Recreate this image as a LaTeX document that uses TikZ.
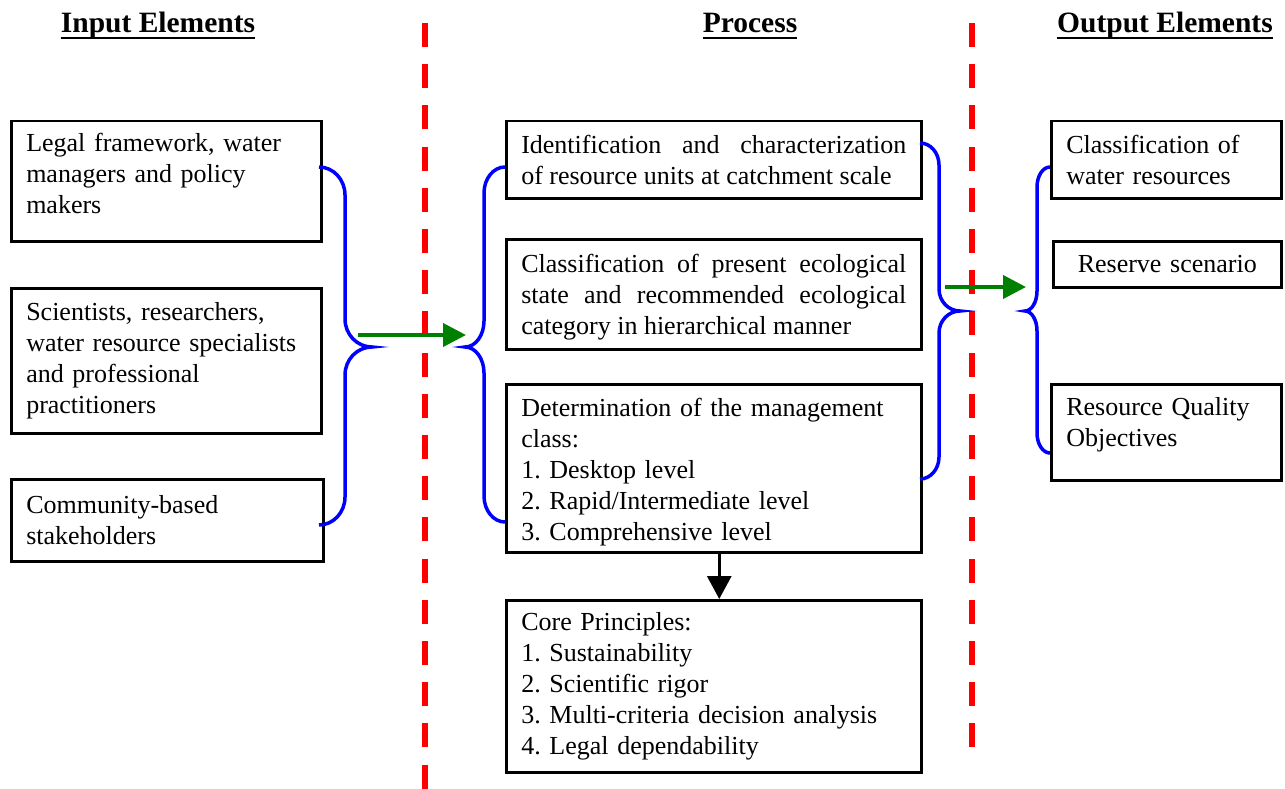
\documentclass[tikz,border=0pt]{standalone}
\usepackage{fontspec}
\setmainfont{Liberation Serif}
\usetikzlibrary{arrows.meta}
\frenchspacing

% x0 y0 y1 xv xt yt r
\newcommand{\curly}[7]{%
    \draw[brace] (#1,#2) .. controls (#1+0.552*#4-0.552*#1,#2) and (#4,#2+0.448*#7) .. (#4,#2+#7)
        -- (#4,#6-#7)
        .. controls (#4,#6-0.448*#7) and (#5-0.552*#5+0.552*#4,#6) .. (#5,#6)
        .. controls (#5-0.552*#5+0.552*#4,#6) and (#4,#6+0.448*#7) .. (#4,#6+#7)
        -- (#4,#3-#7)
        .. controls (#4,#3-0.448*#7) and (#1+0.552*#4-0.552*#1,#3) .. (#1,#3);}

\begin{document}
\begin{tikzpicture}[x=1pt,y=-1pt,
            font=\fontsize{26}{31}\selectfont,
            box/.style={draw, line width=2.5pt, anchor=north west,
                inner xsep=15pt, inner ysep=4pt, align=left},
            title/.style={font=\fontsize{29.5}{34}\selectfont\bfseries,
                anchor=base, inner sep=0pt},
            brace/.style={blue, line width=3.5pt},
            divider/.style={red, line width=6pt, dash pattern=on 24pt off 17.2pt},
            flow/.style={-{Triangle[length=23pt,width=23pt]}, green!50!black, line width=4pt},
            down/.style={-{Triangle[length=23pt,width=24pt]}, black, line width=3pt}]
    \useasboundingbox (0,0) rectangle (1285,789);

    % headings
    \node[title] (intitle) at (158,33) {Input Elements};
    \node[title] (proctitle) at (750,33) {Process};
    \node[title] (outtitle) at (1165,33) {Output Elements};
    \foreach \t in {intitle,proctitle,outtitle}
        \draw[line width=2.7pt] ([yshift=-5pt]\t.base west) -- ([yshift=-5pt]\t.base east);

    % dividers
    \coordinate (d1top) at (425,23);
    \coordinate (d1bot) at (425,789);
    \coordinate (d2top) at (972,23);
    \coordinate (d2bot) at (972,752);
    \draw[divider] (d1top) -- (d1bot);
    \draw[divider] (d2top) -- (d2bot);

    % input elements
    \node[box, text width=280pt, minimum height=120pt, text depth=78pt] (legal) at (10,120)
        {Legal framework, water\\managers and policy\\makers};
    \node[box, text width=280pt, minimum height=145pt] (science) at (10,287)
        {Scientists, researchers,\\water resource specialists\\and professional\\practitioners};
    \node[box, text width=282pt, minimum height=82pt] (community) at (10,478)
        {Community-based\\stakeholders};

    % process
    \node[box, text width=385pt, minimum height=77pt, align=justify] (identify) at (505,120)
        {Identification and characterization\linebreak of resource units at catchment scale};
    \node[box, text width=385pt, minimum height=110pt, align=justify, text height=24pt] (present) at (505,238)
        {Classification of present ecological\linebreak state and recommended ecological\linebreak category in hierarchical manner};
    \node[box, text width=385pt, minimum height=168pt, text height=26pt] (manage) at (505,383)
        {Determination of the management\\class:\\1. Desktop level\\2. Rapid/Intermediate level\\3. Comprehensive level};
    \node[box, text width=385pt, minimum height=172pt] (core) at (505,599)
        {Core Principles:\\1. Sustainability\\2. Scientific rigor\\3. Multi-criteria decision analysis\\4. Legal dependability};

    % output elements
    \node[box, text width=200pt, minimum height=77pt] (classify) at (1050,120)
        {Classification of\\water resources};
    \node[box, text width=198pt, minimum height=46pt, align=center] (reserve) at (1052,240)
        {Reserve scenario};
    \node[box, text width=200pt, minimum height=96pt, text depth=51pt] (rqo) at (1050,383)
        {Resource Quality\\Objectives};

    % braces
    \curly{319}{167}{525}{345}{372}{347}{28}
    \curly{505}{167}{522}{484}{465}{347}{26}
    \curly{920}{143}{479}{939}{960}{311}{22}
    \curly{1050}{167}{453}{1037}{1025}{311}{20}

    % flows
    \coordinate (inflow) at (358,335);
    \coordinate (procin) at (466,335);
    \coordinate (procout) at (945,287);
    \coordinate (outin) at (1026,287);
    \draw[flow] (inflow) -- (procin);
    \draw[flow] (procout) -- (outin);
    \draw[down] ([xshift=5.5pt]manage.south) -- ([xshift=5.5pt]core.north);
\end{tikzpicture}
\end{document}
